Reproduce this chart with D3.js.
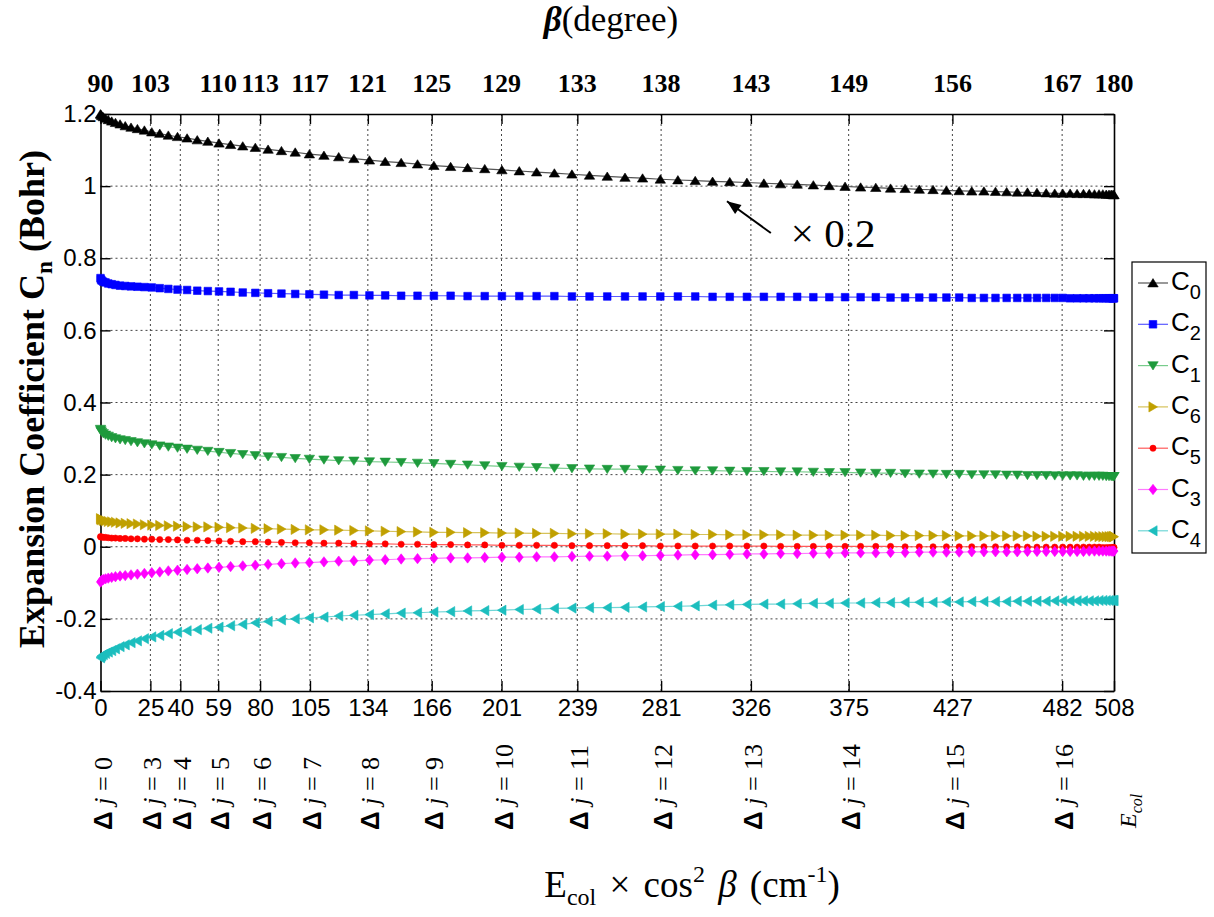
<!DOCTYPE html>
<html>
<head>
<meta charset="utf-8">
<script src="https://cdn.jsdelivr.net/npm/d3@7"></script>
<style>
  body { margin: 0; background: #fff; }
  svg { display: block; }
  .sans { font-family: "Liberation Sans", Arial, sans-serif; }
  .serif { font-family: "Liberation Serif", "Times New Roman", serif; }
</style>
</head>
<body>
<script>
// x values: E_col x cos^2(beta), one point per degree of beta (90..180)
const eCos2 = [
  0, 0.2, 0.6, 1.4, 2.5, 3.9, 5.6, 7.5, 9.8, 12.4,
  15.3, 18.5, 22.0, 25.7, 29.7, 34.0, 38.6, 43.4, 48.5, 53.8,
  59.4, 65.2, 71.3, 77.6, 84.0, 90.7, 97.6, 104.7, 112.0, 119.4,
  127.0, 134.8, 142.7, 150.7, 158.9, 167.1, 175.5, 184.0, 192.6, 201.2,
  209.9, 218.6, 227.5, 236.3, 245.1, 254.0, 262.9, 271.7, 280.6, 289.4,
  298.1, 306.8, 315.4, 324.0, 332.5, 340.9, 349.2, 357.3, 365.3, 373.2,
  381.0, 388.6, 396.0, 403.3, 410.4, 417.3, 424.0, 430.4, 436.7, 442.8,
  448.6, 454.2, 459.5, 464.6, 469.4, 474.0, 478.3, 482.3, 486.0, 489.5,
  492.7, 495.6, 498.2, 500.5, 502.4, 504.1, 505.5, 506.6, 507.4, 507.8,
  508.0
];

const c0 = [ // shown x 0.2
  1.200,1.198,1.195,1.192,1.188,1.184,1.180,1.176,1.172,1.167,
  1.163,1.159,1.155,1.150,1.146,1.141,1.137,1.133,1.128,1.124,
  1.119,1.115,1.111,1.107,1.102,1.098,1.094,1.089,1.085,1.081,
  1.076,1.072,1.068,1.065,1.061,1.057,1.054,1.051,1.048,1.045,
  1.042,1.039,1.036,1.033,1.030,1.027,1.024,1.022,1.019,1.017,
  1.015,1.013,1.012,1.010,1.008,1.006,1.005,1.003,1.001,0.999,
  0.997,0.996,0.994,0.993,0.991,0.990,0.988,0.987,0.986,0.986,
  0.985,0.984,0.983,0.983,0.982,0.981,0.980,0.980,0.980,0.979,
  0.979,0.979,0.978,0.978,0.978,0.977,0.977,0.977,0.976,0.976,
  0.976
];
const c2 = [
  0.745,0.741,0.738,0.735,0.733,0.730,0.728,0.726,0.724,0.723,
  0.722,0.721,0.720,0.719,0.717,0.715,0.713,0.712,0.710,0.709,
  0.708,0.707,0.705,0.704,0.703,0.702,0.701,0.700,0.699,0.698,
  0.698,0.697,0.697,0.696,0.696,0.696,0.696,0.695,0.695,0.695,
  0.695,0.695,0.695,0.694,0.694,0.694,0.694,0.694,0.694,0.694,
  0.694,0.693,0.693,0.693,0.693,0.693,0.693,0.692,0.692,0.692,
  0.692,0.692,0.691,0.691,0.691,0.691,0.691,0.691,0.690,0.690,
  0.690,0.690,0.690,0.690,0.690,0.690,0.690,0.690,0.689,0.689,
  0.689,0.689,0.689,0.689,0.689,0.689,0.689,0.689,0.689,0.689,
  0.689
];
const c1 = [
  0.326,0.322,0.318,0.314,0.310,0.307,0.303,0.300,0.297,0.295,
  0.292,0.289,0.286,0.283,0.280,0.277,0.274,0.271,0.268,0.265,
  0.262,0.259,0.256,0.253,0.250,0.248,0.245,0.243,0.241,0.239,
  0.238,0.236,0.235,0.234,0.232,0.231,0.229,0.227,0.225,0.223,
  0.221,0.220,0.218,0.217,0.216,0.215,0.215,0.214,0.213,0.212,
  0.211,0.211,0.210,0.209,0.209,0.208,0.208,0.207,0.206,0.206,
  0.205,0.204,0.204,0.203,0.202,0.202,0.201,0.201,0.200,0.200,
  0.200,0.199,0.199,0.198,0.198,0.198,0.197,0.197,0.197,0.197,
  0.196,0.196,0.196,0.196,0.196,0.195,0.195,0.195,0.195,0.195,
  0.195
];
const c6 = [
  0.078,0.076,0.075,0.073,0.072,0.070,0.069,0.068,0.066,0.065,
  0.064,0.063,0.061,0.060,0.059,0.058,0.057,0.056,0.055,0.055,
  0.054,0.053,0.052,0.051,0.050,0.049,0.048,0.047,0.047,0.046,
  0.045,0.044,0.043,0.042,0.041,0.040,0.040,0.039,0.039,0.038,
  0.038,0.037,0.037,0.036,0.036,0.036,0.035,0.035,0.035,0.035,
  0.034,0.034,0.033,0.033,0.033,0.033,0.032,0.032,0.032,0.032,
  0.032,0.032,0.031,0.031,0.031,0.031,0.031,0.030,0.030,0.030,
  0.030,0.030,0.030,0.030,0.029,0.029,0.029,0.029,0.029,0.029,
  0.029,0.029,0.029,0.028,0.028,0.028,0.028,0.028,0.028,0.028,
  0.028
];
const c5 = [
  0.028,0.027,0.027,0.026,0.026,0.025,0.024,0.024,0.023,0.023,
  0.022,0.022,0.021,0.021,0.020,0.020,0.019,0.018,0.018,0.017,
  0.016,0.015,0.014,0.014,0.013,0.012,0.011,0.011,0.010,0.010,
  0.009,0.008,0.008,0.007,0.007,0.006,0.006,0.005,0.005,0.004,
  0.004,0.004,0.004,0.003,0.003,0.003,0.003,0.003,0.002,0.002,
  0.002,0.002,0.002,0.002,0.002,0.001,0.001,0.001,0.001,0.001,
  0.001,0.001,0.001,0.000,0.000,0.000,0.000,0.000,0.000,0.000,
  0.000,0.000,0.000,-0.001,-0.001,-0.001,-0.001,-0.001,-0.001,-0.001,
  -0.001,-0.001,-0.001,-0.001,-0.002,-0.002,-0.002,-0.002,-0.002,-0.002,
  -0.002
];
const c3 = [
  -0.098,-0.096,-0.093,-0.091,-0.089,-0.087,-0.085,-0.083,-0.081,-0.080,
  -0.078,-0.076,-0.074,-0.072,-0.070,-0.067,-0.065,-0.063,-0.061,-0.059,
  -0.057,-0.055,-0.053,-0.051,-0.049,-0.047,-0.045,-0.044,-0.042,-0.040,
  -0.039,-0.037,-0.036,-0.034,-0.033,-0.032,-0.031,-0.031,-0.030,-0.029,
  -0.029,-0.028,-0.028,-0.027,-0.026,-0.026,-0.025,-0.025,-0.024,-0.023,
  -0.022,-0.022,-0.021,-0.020,-0.020,-0.019,-0.019,-0.018,-0.018,-0.017,
  -0.017,-0.017,-0.016,-0.016,-0.015,-0.015,-0.015,-0.015,-0.014,-0.014,
  -0.014,-0.014,-0.014,-0.013,-0.013,-0.013,-0.013,-0.013,-0.013,-0.013,
  -0.013,-0.012,-0.012,-0.012,-0.012,-0.012,-0.012,-0.012,-0.012,-0.012,
  -0.012
];
const c4 = [
  -0.308,-0.305,-0.302,-0.299,-0.296,-0.292,-0.288,-0.283,-0.277,-0.272,
  -0.266,-0.261,-0.255,-0.250,-0.246,-0.241,-0.237,-0.233,-0.230,-0.226,
  -0.223,-0.219,-0.215,-0.211,-0.207,-0.203,-0.200,-0.197,-0.195,-0.192,
  -0.190,-0.188,-0.186,-0.184,-0.183,-0.181,-0.180,-0.178,-0.177,-0.176,
  -0.174,-0.173,-0.171,-0.170,-0.169,-0.169,-0.168,-0.167,-0.166,-0.165,
  -0.164,-0.162,-0.161,-0.160,-0.159,-0.159,-0.158,-0.157,-0.157,-0.156,
  -0.156,-0.155,-0.155,-0.154,-0.154,-0.154,-0.153,-0.153,-0.152,-0.152,
  -0.152,-0.152,-0.151,-0.151,-0.151,-0.151,-0.150,-0.150,-0.150,-0.150,
  -0.150,-0.150,-0.150,-0.149,-0.149,-0.149,-0.149,-0.149,-0.149,-0.149,
  -0.149
];

const seriesNames = ["0", "2", "1", "6", "5", "3", "4"];
const seriesValues = [c0, c2, c1, c6, c5, c3, c4];

const xTicks = [0, 25, 40, 59, 80, 105, 134, 166, 201, 239, 281, 326, 375, 427, 482, 508];
const djLabels = ["0", "3", "4", "5", "6", "7", "8", "9", "10", "11", "12", "13", "14", "15", "16"];
const betaTickE = [0, 25, 59, 80, 105, 134, 166, 201, 239, 281, 326, 375, 427, 482, 508];
const betaLabels = ["90", "103", "110", "113", "117", "121", "125", "129", "133", "138", "143", "149", "156", "167", "180"];
const yTicks = [-0.4, -0.2, 0, 0.2, 0.4, 0.6, 0.8, 1, 1.2];

// styles
const markerColors = ["#000000", "#0000ff", "#1e9a3c", "#c0a000", "#ff0000", "#ff00ff", "#1cbebe"];
const lineColors   = ["#555555", "#5a5aff", "#78cc8c", "#d6c25a", "#ff5a5a", "#ff7aff", "#6fd6d6"];
const markerShapes = ["up", "square", "down", "right", "circle", "diamond", "left"];

function markerPath(shape) {
  switch (shape) {
    case "up":      return "M0,-4.4L5.2,3.9L-5.2,3.9Z";
    case "down":    return "M0,4.4L5.2,-3.9L-5.2,-3.9Z";
    case "right":   return "M4.5,0L-4.1,-5.1L-4.1,5.1Z";
    case "left":    return "M-4.5,0L4.1,-5.1L4.1,5.1Z";
    case "square":  return "M-3.8,-3.8h7.6v7.6h-7.6Z";
    case "diamond": return "M0,-5.2L4,0L0,5.2L-4,0Z";
    case "circle":  return d3.symbol(d3.symbolCircle, 30)();
  }
}

const W = 1214, H = 917;
const x = d3.scaleLinear().domain([0, 508]).range([100.5, 1114]);
const y = d3.scaleLinear().domain([-0.4, 1.2]).range([691, 114]);

const svg = d3.select("body").append("svg").attr("width", W).attr("height", H);
svg.append("rect").attr("width", W).attr("height", H).attr("fill", "#fff");

// grid
const grid = svg.append("g").attr("stroke", "#444").attr("stroke-width", 1).attr("stroke-dasharray", "2,3");
grid.selectAll(".gx").data(xTicks.slice(1, -1)).enter().append("line")
  .attr("x1", d => x(d)).attr("x2", d => x(d)).attr("y1", y(1.2)).attr("y2", y(-0.4));
grid.selectAll(".gy").data(yTicks.slice(1, -1)).enter().append("line")
  .attr("y1", d => y(d)).attr("y2", d => y(d)).attr("x1", x(0)).attr("x2", x(508));

// axes (inward ticks like MATLAB)
function styleAxis(g) {
  g.selectAll("path").attr("stroke", "#000").attr("stroke-width", 1.6);
  g.selectAll("line").attr("stroke", "#000").attr("stroke-width", 1.4);
  g.selectAll("text").attr("fill", "#000");
}
svg.append("g").attr("transform", `translate(0,${y(-0.4)})`)
  .call(d3.axisBottom(x).tickValues(xTicks).tickSizeInner(-10).tickSizeOuter(0).tickPadding(8).tickFormat(d3.format("d")))
  .call(styleAxis)
  .call(g => g.selectAll("text").attr("class", "sans").attr("font-size", 24).attr("font-family", null));
svg.append("g").attr("transform", `translate(0,${y(1.2)})`)
  .call(d3.axisTop(x).tickValues(xTicks).tickSizeInner(-10).tickSizeOuter(0).tickFormat(""))
  .call(styleAxis);
svg.append("g").attr("transform", `translate(${x(0)},0)`)
  .call(d3.axisLeft(y).tickValues(yTicks).tickSizeInner(-10).tickSizeOuter(0).tickPadding(4).tickFormat(d => String(d)))
  .call(styleAxis)
  .call(g => g.selectAll("text").attr("class", "sans").attr("font-size", 24).attr("font-family", null));
svg.append("g").attr("transform", `translate(${x(508)},0)`)
  .call(d3.axisRight(y).tickValues(yTicks).tickSizeInner(-10).tickSizeOuter(0).tickFormat(""))
  .call(styleAxis);

// series
const line = d3.line().x((d, i) => x(eCos2[i])).y(d => y(d));
seriesValues.forEach((vals, k) => {
  svg.append("path").datum(vals).attr("d", line)
    .attr("fill", "none").attr("stroke", lineColors[k]).attr("stroke-width", 1.2);
  svg.append("g").selectAll("path").data(vals).enter().append("path")
    .attr("d", markerPath(markerShapes[k]))
    .attr("transform", (d, i) => `translate(${x(eCos2[i])},${y(d)})`)
    .attr("fill", markerColors[k]).attr("stroke", markerColors[k]).attr("stroke-width", 0.6);
});

// top beta labels
svg.append("g").selectAll("text").data(betaTickE).enter().append("text")
  .attr("class", "serif").attr("font-size", 26).attr("font-weight", "bold")
  .attr("text-anchor", "middle").attr("x", d => x(d)).attr("y", 92)
  .text((d, i) => betaLabels[i]);

// top title
const tt = svg.append("text").attr("class", "serif").attr("font-size", 35)
  .attr("text-anchor", "middle").attr("x", 611).attr("y", 31);
tt.append("tspan").attr("font-style", "italic").attr("font-weight", "bold").text("β");
tt.append("tspan").text("(degree)");

// delta j labels
const dj = svg.append("g");
xTicks.forEach((t, i) => {
  const isLast = i === xTicks.length - 1;
  const tx = isLast ? x(t) + 14 : x(t) + 2;
  const txt = dj.append("text").attr("class", "serif").attr("font-size", isLast ? 24 : 26)
    .attr("transform", `translate(${tx},${isLast ? 828 : 830}) rotate(-90)`)
    .attr("dy", "0.35em");
  if (isLast) {
    txt.append("tspan").attr("font-style", "italic").text("E");
    txt.append("tspan").attr("font-style", "italic").attr("font-size", 16).attr("dy", 6).text("col");
  } else {
    txt.append("tspan").attr("font-weight", "bold").attr("font-family", "Liberation Sans, Arial, sans-serif").text("Δ");
    txt.append("tspan").attr("font-style", "italic").text(" j");
    txt.append("tspan").text(" = " + djLabels[i]);
  }
});

// x title
const xt = svg.append("text").attr("class", "serif").attr("font-size", 37).attr("word-spacing", 4)
  .attr("text-anchor", "middle").attr("x", 692).attr("y", 897);
xt.append("tspan").text("E");
xt.append("tspan").attr("font-size", 24).attr("dy", 8).text("col");
xt.append("tspan").attr("dy", -8).text(" × cos");
xt.append("tspan").attr("font-size", 24).attr("dy", -15).text("2");
xt.append("tspan").attr("dy", 15).text(" ");
xt.append("tspan").attr("font-style", "italic").text("β");
xt.append("tspan").text(" (cm");
xt.append("tspan").attr("font-size", 24).attr("dy", -15).text("-1");
xt.append("tspan").attr("dy", 15).text(")");

// y title
const yt = svg.append("text").attr("class", "serif").attr("font-size", 36).attr("font-weight", "bold")
  .attr("text-anchor", "middle").attr("transform", "translate(44,399) rotate(-90)");
yt.append("tspan").text("Expansion Coefficient C");
yt.append("tspan").attr("font-size", 23).attr("dy", 8).text("n");
yt.append("tspan").attr("dy", -8).text(" (Bohr)");

// annotation: x 0.2 arrow
const tail = [x(336), y(0.870)], head = [x(314), y(0.958)];
svg.append("line").attr("x1", tail[0]).attr("y1", tail[1]).attr("x2", head[0]).attr("y2", head[1])
  .attr("stroke", "#000").attr("stroke-width", 2);
{
  const dx = head[0] - tail[0], dy = head[1] - tail[1], L = Math.hypot(dx, dy);
  const ux = dx / L, uy = dy / L, len = 14, hw = 5.5;
  const bx = head[0] - ux * len, by = head[1] - uy * len;
  svg.append("path")
    .attr("d", `M${head[0]},${head[1]}L${bx - uy * hw},${by + ux * hw}L${bx + uy * hw},${by - ux * hw}Z`)
    .attr("fill", "#000");
}
svg.append("text").attr("class", "serif").attr("font-size", 41)
  .attr("x", x(346)).attr("y", y(0.832)).text("× 0.2");

// legend
const lg = svg.append("g");
lg.append("rect").attr("x", 1132).attr("y", 262).attr("width", 74).attr("height", 291)
  .attr("fill", "#fff").attr("stroke", "#000").attr("stroke-width", 1.2);
seriesNames.forEach((n, k) => {
  const ly = 283 + k * 41.3;
  lg.append("line").attr("x1", 1138).attr("x2", 1168).attr("y1", ly).attr("y2", ly)
    .attr("stroke", lineColors[k]).attr("stroke-width", 1.2);
  lg.append("path").attr("d", markerPath(markerShapes[k]))
    .attr("transform", `translate(1153,${ly})`)
    .attr("fill", markerColors[k]).attr("stroke", markerColors[k]).attr("stroke-width", 0.6);
  const t = lg.append("text").attr("class", "sans").attr("font-size", 26).attr("x", 1171).attr("y", ly + 7);
  t.append("tspan").text("C");
  t.append("tspan").attr("font-size", 20).attr("dy", 9).text(n);
});
</script>
</body>
</html>
